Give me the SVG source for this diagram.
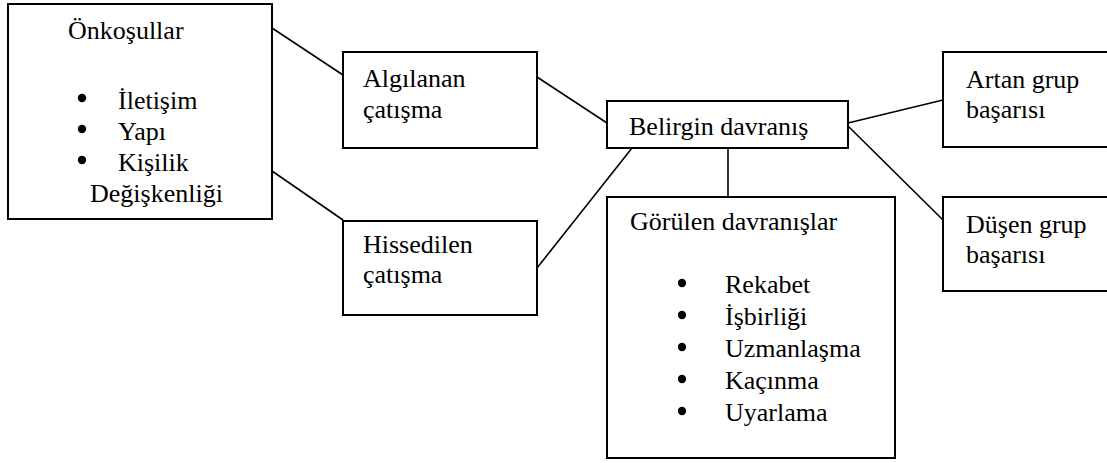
<svg xmlns="http://www.w3.org/2000/svg" width="1107" height="463" viewBox="0 0 1107 463">
<style>
.box{fill:#fff;stroke:#000;stroke-width:2}
.t{font-family:'Liberation Serif','Times New Roman',Tinos,'DejaVu Serif',serif;font-size:26px;fill:#000}
.c line{stroke:#000;stroke-width:1.6}
</style>
<defs><circle id="b" r="4.2" fill="#000"/></defs>
<rect width="1107" height="463" fill="#fff"/>
<g class="c" id="connectors">
<line x1="272" y1="28" x2="343" y2="75"/>
<line x1="272" y1="171" x2="343" y2="220"/>
<line x1="537" y1="77" x2="607" y2="123"/>
<line x1="537" y1="268" x2="632" y2="148"/>
<line x1="728" y1="148" x2="728" y2="197"/>
<line x1="848" y1="123" x2="943" y2="100"/>
<line x1="848" y1="126" x2="943" y2="220"/>
</g>
<g id="onkosullar">
<rect class="box" x="8" y="4" width="264" height="215"/>
<text class="t" x="68" y="39">Önkoşullar</text>
<use href="#b" x="82" y="98"/><text class="t" x="118" y="109">İletişim</text>
<use href="#b" x="82" y="129"/><text class="t" x="118" y="140">Yapı</text>
<use href="#b" x="82" y="160"/><text class="t" x="118" y="171">Kişilik</text>
<text class="t" x="90" y="202">Değişkenliği</text>
</g>
<g id="algilanan">
<rect class="box" x="343" y="52" width="194" height="96"/>
<text class="t" x="363" y="87">Algılanan</text>
<text class="t" x="363" y="118">çatışma</text>
</g>
<g id="hissedilen">
<rect class="box" x="343" y="221" width="194" height="94"/>
<text class="t" x="363" y="253">Hissedilen</text>
<text class="t" x="363" y="283">çatışma</text>
</g>
<g id="belirgin">
<rect class="box" x="607" y="101" width="241" height="47"/>
<text class="t" x="629" y="135">Belirgin davranış</text>
</g>
<g id="gorulen">
<rect class="box" x="607" y="197" width="288" height="261"/>
<text class="t" x="630" y="230">Görülen davranışlar</text>
<use href="#b" x="682" y="283"/><text class="t" x="725" y="293">Rekabet</text>
<use href="#b" x="682" y="315"/><text class="t" x="725" y="325">İşbirliği</text>
<use href="#b" x="682" y="347"/><text class="t" x="725" y="357">Uzmanlaşma</text>
<use href="#b" x="682" y="379"/><text class="t" x="725" y="389">Kaçınma</text>
<use href="#b" x="682" y="411"/><text class="t" x="725" y="421">Uyarlama</text>
</g>
<g id="artan">
<rect class="box" x="943" y="52" width="180" height="95"/>
<text class="t" x="966" y="88">Artan grup</text>
<text class="t" x="966" y="118">başarısı</text>
</g>
<g id="dusen">
<rect class="box" x="943" y="197" width="180" height="94"/>
<text class="t" x="966" y="233">Düşen grup</text>
<text class="t" x="966" y="263">başarısı</text>
</g>
</svg>
